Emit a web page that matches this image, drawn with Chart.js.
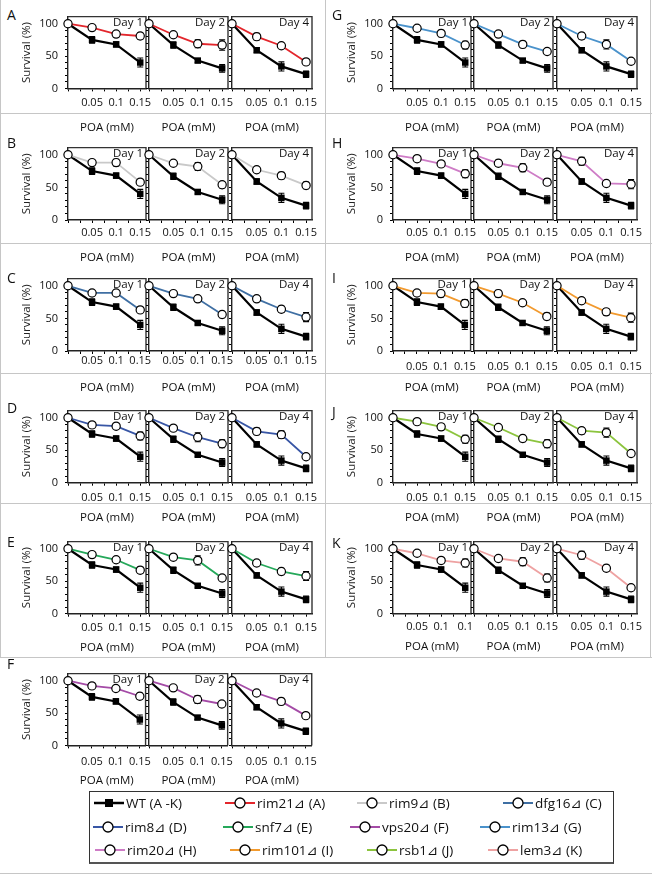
<!DOCTYPE html>
<html><head><meta charset="utf-8">
<script src="https://cdn.jsdelivr.net/npm/chart.js@4.4.1/dist/chart.umd.min.js"></script>
<style>
body{margin:0;background:#fff;width:652px;height:875px;position:relative;overflow:hidden;font-family:'Open Sans','DejaVu Sans',sans-serif;}
canvas{position:absolute;}
.gl{position:absolute;background:#c6c6c6;}
.lt{position:absolute;font-size:14px;color:#111;line-height:16px;}
.lg{position:absolute;font-size:13.5px;color:#111;white-space:nowrap;line-height:18px;height:18px;display:flex;align-items:center;}
.lg svg{margin-right:2px;}
</style></head><body>
<script>
// ---------- data ----------
const doses = [0, 0.05, 0.1, 0.15];
const xTickValues = [0, 0.025, 0.05, 0.075, 0.1, 0.125, 0.15];
const labelDoses = [0.05, 0.1, 0.15];
const xTickLabels = ['0.05', '0.1', '0.15'];
const xTickLabelsK1 = ['0.05', '0.1', '0.1'];
const yTickValues = [0, 10, 20, 30, 40, 50, 60, 70, 80, 90, 100];
const yTickLabels = [0, 50, 100];
const dayLabels = ['Day 1', 'Day 2', 'Day 4'];

const wtDay1 = [100, 75, 68, 40];
const wtDay2 = [100, 67, 43, 31];
const wtDay4 = [100, 59, 34, 22];
const wtErrDay1 = [0, 5, 4, 7];
const wtErrDay2 = [0, 5, 3, 6];
const wtErrDay4 = [0, 4, 7, 5];

const rim21 = [[100, 94, 84, 81], [100, 83, 69, 67], [100, 80, 66, 41]];
const rim21Err = [[0, 3, 4, 5], [0, 3, 6, 8], [0, 5, 4, 4]];
const rim9 = [[100, 88, 88, 58], [100, 87, 82, 54], [100, 77, 68, 53]];
const rim9Err = [[0, 3, 5, 3], [0, 3, 6, 5], [0, 4, 5, 5]];
const dfg16 = [[100, 89, 89, 63], [100, 88, 80, 56], [100, 80, 64, 52]];
const dfg16Err = [[0, 3, 4, 4], [0, 3, 3, 5], [0, 4, 5, 7]];
const rim8 = [[100, 89, 87, 72], [100, 84, 70, 60], [100, 79, 74, 40]];
const rim8Err = [[0, 3, 4, 6], [0, 3, 7, 6], [0, 5, 6, 3]];
const snf7 = [[100, 91, 83, 67], [100, 87, 82, 55], [100, 78, 65, 58]];
const snf7Err = [[0, 4, 3, 5], [0, 4, 7, 4], [0, 4, 5, 7]];
const vps20 = [[100, 92, 88, 76], [100, 89, 71, 64], [100, 81, 68, 46]];
const vps20Err = [[0, 4, 4, 5], [0, 3, 6, 3], [0, 3, 5, 3]];
const rim13 = [[100, 93, 85, 67], [100, 84, 68, 57], [100, 81, 68, 42]];
const rim13Err = [[0, 4, 5, 6], [0, 3, 5, 4], [0, 5, 7, 3]];
const rim20 = [[100, 94, 86, 71], [100, 87, 80, 58], [100, 90, 56, 55]];
const rim20Err = [[0, 3, 4, 6], [0, 5, 6, 5], [0, 6, 3, 7]];
const rim101 = [[100, 89, 88, 73], [100, 88, 74, 53], [100, 77, 60, 51]];
const rim101Err = [[0, 3, 5, 6], [0, 5, 3, 5], [0, 4, 5, 7]];
const rsb1 = [[100, 94, 86, 67], [100, 85, 68, 60], [100, 80, 77, 45]];
const rsb1Err = [[0, 3, 5, 6], [0, 4, 5, 6], [0, 5, 7, 3]];
const lem3 = [[100, 93, 82, 78], [100, 85, 80, 55], [100, 90, 70, 40]];
const lem3Err = [[0, 4, 4, 6], [0, 3, 6, 6], [0, 6, 5, 3]];

const wtValues = [wtDay1, wtDay2, wtDay4];
const wtErrors = [wtErrDay1, wtErrDay2, wtErrDay4];

// ---------- layout / style ----------
const FONT = "'Open Sans','DejaVu Sans',sans-serif";
const panels = [
  {letter:'A', name:'rim21⊿ (A)', vals:rim21, errs:rim21Err, color:'#E3262C', colX:0, Y:20.7, lab:14, poa:39.5, ly:15},
  {letter:'B', name:'rim9⊿ (B)', vals:rim9, errs:rim9Err, color:'#C9C9C9', colX:0, Y:152.3, lab:13, poa:38, ly:143},
  {letter:'C', name:'dfg16⊿ (C)', vals:dfg16, errs:dfg16Err, color:'#3F6FA3', colX:0, Y:283.3, lab:10, poa:37, ly:278},
  {letter:'D', name:'rim8⊿ (D)', vals:rim8, errs:rim8Err, color:'#3856A5', colX:0, Y:415, lab:15, poa:35, ly:408},
  {letter:'E', name:'snf7⊿ (E)', vals:snf7, errs:snf7Err, color:'#25A85A', colX:0, Y:546, lab:14, poa:34, ly:542},
  {letter:'F', name:'vps20⊿ (F)', vals:vps20, errs:vps20Err, color:'#A44BA6', colX:0, Y:677.7, lab:16, poa:35, ly:664},
  {letter:'G', name:'rim13⊿ (G)', vals:rim13, errs:rim13Err, color:'#4A92CB', colX:325, Y:20.7, lab:14, poa:39.5, ly:15},
  {letter:'H', name:'rim20⊿ (H)', vals:rim20, errs:rim20Err, color:'#CE7CC6', colX:325, Y:152.3, lab:13, poa:38, ly:143},
  {letter:'I', name:'rim101⊿ (I)', vals:rim101, errs:rim101Err, color:'#F29A2E', colX:325, Y:283.3, lab:16, poa:37, ly:278},
  {letter:'J', name:'rsb1⊿ (J)', vals:rsb1, errs:rsb1Err, color:'#8CC43E', colX:325, Y:415, lab:15, poa:35, ly:412},
  {letter:'K', name:'lem3⊿ (K)', vals:lem3, errs:lem3Err, color:'#EEA2A2', colX:325, Y:546, lab:13, poa:33, ly:543}
];
const boxLefts = [68, 149, 232];
const boxWidths = [78, 79, 80];
const PX_PER_UNIT = 0.677;
const Y_MAX = 111;

function addDiv(cls, l, t, w, h, extra) {
  const d = document.createElement('div');
  d.className = cls;
  d.style.left = l + 'px'; d.style.top = t + 'px';
  if (w != null) d.style.width = w + 'px';
  if (h != null) d.style.height = h + 'px';
  if (extra) Object.assign(d.style, extra);
  document.body.appendChild(d);
  return d;
}
// gray table lines
[113, 243, 373, 503, 657].forEach(y => addDiv('gl', 0, y, 652, 1));
addDiv('gl', 0, 0, 1, 657);
addDiv('gl', 325, 0, 1, 657);
addDiv('gl', 650, 0, 1, 657);
addDiv('gl', 0, 873, 652, 1);

// plugins
const errorBars = {
  id: 'errorBars',
  beforeDatasetsDraw(chart) {
    const {ctx, scales: {x, y}} = chart;
    ctx.save();
    ctx.strokeStyle = '#000'; ctx.lineWidth = 1.1;
    chart.data.datasets.forEach(ds => {
      if (!ds.errors) return;
      ds.data.forEach((pt, j) => {
        const e = ds.errors[j];
        if (!e) return;
        const px = x.getPixelForValue(pt.x);
        const y1 = y.getPixelForValue(pt.y + e), y2 = y.getPixelForValue(pt.y - e);
        ctx.beginPath();
        ctx.moveTo(px, y1); ctx.lineTo(px, y2);
        ctx.moveTo(px - 3, y1); ctx.lineTo(px + 3, y1);
        ctx.moveTo(px - 3, y2); ctx.lineTo(px + 3, y2);
        ctx.stroke();
      });
    });
    ctx.restore();
  }
};
const frameBox = {
  id: 'frameBox',
  beforeDatasetsDraw(chart) {
    const {ctx, chartArea: a} = chart;
    ctx.save();
    ctx.strokeStyle = '#333'; ctx.lineWidth = 1.4;
    ctx.beginPath();
    ctx.moveTo(a.left, a.top); ctx.lineTo(a.right, a.top); ctx.lineTo(a.right, a.bottom);
    ctx.stroke();
    ctx.restore();
  },
  afterDraw(chart, args, opts) {
    const {ctx, chartArea: a} = chart;
    ctx.save();
    ctx.font = '11.5px ' + FONT;
    ctx.fillStyle = '#111';
    ctx.textAlign = 'right'; ctx.textBaseline = 'middle';
    ctx.fillText(opts.text, a.right - 3, a.top + 6.5);
    ctx.restore();
  }
};

function makeChart(p, d) {
  const boxLeft = p.colX + boxLefts[d];
  const boxW = boxWidths[d];
  const yW = d === 0 ? 62 : 8;
  const areaTop = p.Y - (Y_MAX - 100) * PX_PER_UNIT;
  const areaH = Y_MAX * PX_PER_UNIT;
  const xH = p.poa + 7.9;
  const canvasTop = Math.floor(areaTop - 10);
  const padTop = areaTop - canvasTop;
  const padRight = 12;
  const W = yW + boxW + padRight;
  const Hraw = padTop + areaH + xH;
  const H = Math.ceil(Hraw);
  const c = document.createElement('canvas');
  c.width = W; c.height = H;
  c.style.width = W + 'px'; c.style.height = H + 'px';
  c.style.left = (boxLeft - yW) + 'px';
  c.style.top = canvasTop + 'px';
  document.body.appendChild(c);
  const xl = (p.letter === 'K' && d === 0) ? xTickLabelsK1 : xTickLabels;
  const mut = p.vals[d], mutErr = p.errs[d];
  new Chart(c, {
    type: 'line',
    data: {
      datasets: [
        {
          data: doses.map((x, i) => ({x, y: mut[i]})), errors: mutErr,
          borderColor: p.color, borderWidth: 1.8, pointStyle: 'circle', pointRadius: 4.1,
          pointBackgroundColor: '#fff', pointBorderColor: '#000', pointBorderWidth: 1.2, clip: false, tension: 0
        },
        {
          data: doses.map((x, i) => ({x, y: wtValues[d][i]})), errors: wtErrors[d],
          borderColor: '#000', borderWidth: 2.2, pointStyle: 'rect', pointRadius: 4.6,
          pointBackgroundColor: '#000', pointBorderColor: '#000', pointBorderWidth: 0, clip: false, tension: 0
        }
      ]
    },
    options: {
      responsive: false, animation: false, devicePixelRatio: 1,
      layout: {padding: {top: padTop, right: padRight, left: 0, bottom: H - Hraw}},
      plugins: {legend: {display: false}, tooltip: {enabled: false}, frameBox: {text: dayLabels[d]}},
      scales: {
        x: {
          type: 'linear', min: 0, max: 0.162,
          afterBuildTicks: s => { s.ticks = xTickValues.map(v => ({value: v})); },
          afterFit: s => { s.height = xH; },
          ticks: {
            autoSkip: false, maxRotation: 0, minRotation: 0, padding: p.lab - 9.6, color: '#111',
            font: {family: FONT, size: 11},
            callback: v => { const i = labelDoses.findIndex(t => Math.abs(t - v) < 1e-6); return i >= 0 ? xl[i] : ''; }
          },
          grid: {drawOnChartArea: false, drawTicks: true, tickLength: 3, color: '#000', lineWidth: 1},
          border: {display: true, color: '#222', width: 1.4},
          title: {display: true, text: 'POA (mM)', color: '#111', font: {family: FONT, size: 11.5}, padding: {top: 0, bottom: 1}}
        },
        y: {
          min: 0, max: Y_MAX,
          afterBuildTicks: s => { s.ticks = yTickValues.map(v => ({value: v})); },
          afterFit: s => { s.width = yW; },
          ticks: {
            autoSkip: false, padding: 7, color: '#111', font: {family: FONT, size: 11},
            callback: v => (d === 0 && yTickLabels.includes(v)) ? String(v) : ''
          },
          grid: {drawOnChartArea: false, drawTicks: true, tickLength: 3, color: '#000', lineWidth: 1},
          border: {display: true, color: '#222', width: 1.4},
          title: {display: d === 0, text: 'Survival (%)', color: '#222', font: {family: FONT, size: 11.5}, padding: {top: 14, bottom: 0}}
        }
      }
    },
    plugins: [errorBars, frameBox]
  });
}

panels.forEach(p => {
  addDiv('lt', p.colX + 7, p.ly - 8).textContent = p.letter;
  for (let d = 0; d < 3; d++) makeChart(p, d);
});

// ---------- legend ----------
addDiv('', 89, 791, 523, 70, {position: 'absolute', borderTop: '1px solid #333', borderLeft: '1px solid #333', borderRight: '1px solid #333', borderBottom: '2px solid #555'});
function marker(color, wt) {
  if (wt) return `<svg width="30" height="12"><line x1="0" y1="6" x2="30" y2="6" stroke="#000" stroke-width="2.5"/><rect x="11" y="2" width="8" height="8" fill="#000"/></svg>`;
  return `<svg width="30" height="12"><line x1="0" y1="6" x2="30" y2="6" stroke="${color}" stroke-width="2"/><circle cx="15" cy="6" r="5" fill="#fff" stroke="#000" stroke-width="1.3"/></svg>`;
}
const legendItems = [
  {html: marker('#000', true) + 'WT (A -K)', x: 94, y: 803},
  {p: 0, x: 225, y: 803}, {p: 1, x: 357, y: 803}, {p: 2, x: 503, y: 803},
  {p: 3, x: 93, y: 827}, {p: 4, x: 223, y: 827}, {p: 5, x: 350, y: 827}, {p: 6, x: 480, y: 827},
  {p: 7, x: 95, y: 850}, {p: 8, x: 230, y: 850}, {p: 9, x: 367, y: 850}, {p: 10, x: 488, y: 850}
];
legendItems.forEach(it => {
  const el = addDiv('lg', it.x, it.y - 9);
  el.innerHTML = it.html || (marker(panels[it.p].color, false) + panels[it.p].name);
});
</script>
</body></html>
